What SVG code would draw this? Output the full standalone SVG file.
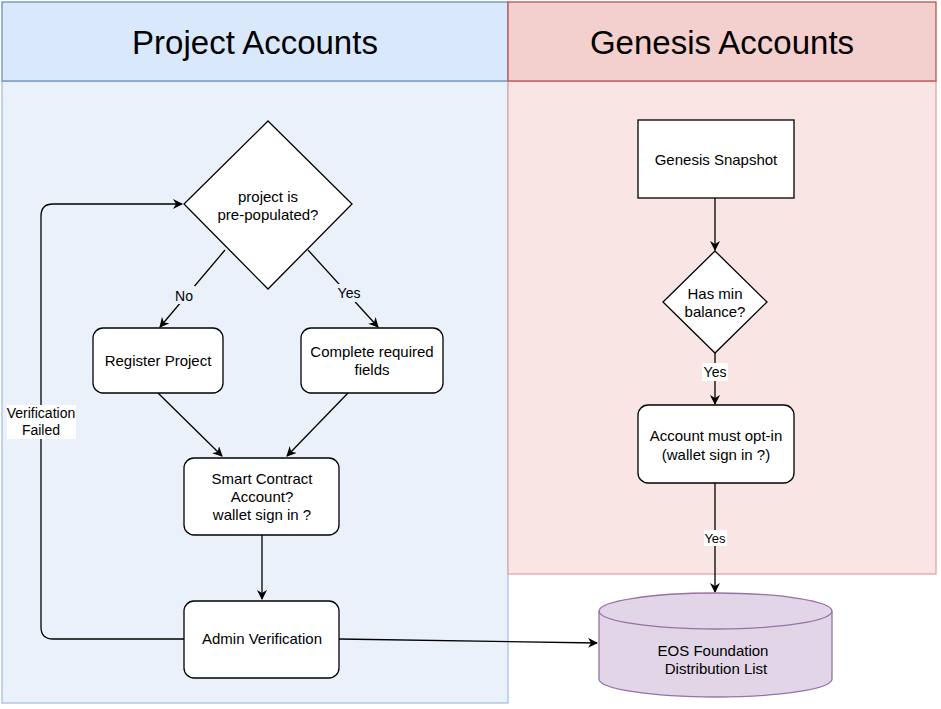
<svg xmlns="http://www.w3.org/2000/svg" width="941" height="709" viewBox="0 0 941 709">
<defs>
<style>
.t{font-family:"Liberation Sans",Arial,sans-serif;font-size:15px;fill:#000;text-anchor:middle}
.title{font-family:"Liberation Sans",Arial,sans-serif;font-size:33px;fill:#000;text-anchor:middle}
.lbl{font-family:"Liberation Sans",Arial,sans-serif;font-size:14px;fill:#000;text-anchor:middle}
.node{fill:#fff;stroke:#000;stroke-width:1.3}
.edge{fill:none;stroke:#000;stroke-width:1.3}
</style>
<marker id="arr" viewBox="0 0 10 10" refX="9" refY="5" markerWidth="10" markerHeight="10" markerUnits="userSpaceOnUse" orient="auto">
<path d="M0,0 L10,5 L0,10 L3,5 Z" fill="#000"/>
</marker>
</defs>
<rect width="941" height="709" fill="#fff"/>
<g id="pool-project">
<rect x="2" y="81" width="506" height="622" fill="#eaf1fb" stroke="#a9bfe0" stroke-width="1.3"/>
<rect x="2" y="2" width="506" height="79" fill="#dae8fc" stroke="#6c8ebf" stroke-width="1.3"/>
<text class="title" x="255" y="54">Project Accounts</text>
</g>
<g id="pool-genesis">
<rect x="508" y="81" width="428" height="493" fill="#f8e5e4" stroke="#e0a5a3" stroke-width="1.3"/>
<rect x="508" y="2" width="428" height="79" fill="#f3cfcd" stroke="#b85450" stroke-width="1.3"/>
<text class="title" x="722" y="54">Genesis Accounts</text>
</g>
<g id="connectors">
<line class="edge" x1="225" y1="250" x2="160" y2="327" marker-end="url(#arr)"/>
<line class="edge" x1="308" y1="250" x2="378" y2="327" marker-end="url(#arr)"/>
<line class="edge" x1="158" y1="393" x2="222" y2="456" marker-end="url(#arr)"/>
<line class="edge" x1="348" y1="393" x2="287" y2="456" marker-end="url(#arr)"/>
<line class="edge" x1="262" y1="535" x2="262" y2="599" marker-end="url(#arr)"/>
<path class="edge" d="M184,639 L53,639 Q41,639 41,627 L41,216 Q41,204 53,204 L182,204" marker-end="url(#arr)"/>
<line class="edge" x1="339" y1="639" x2="597" y2="643" marker-end="url(#arr)"/>
<line class="edge" x1="715" y1="198" x2="715" y2="250" marker-end="url(#arr)"/>
<line class="edge" x1="715" y1="353" x2="715" y2="404" marker-end="url(#arr)"/>
<line class="edge" x1="715" y1="483" x2="715" y2="592" marker-end="url(#arr)"/>
<rect x="173" y="286" width="22" height="18" fill="#eaf1fb"/>
<text class="lbl" x="184" y="301">No</text>
<rect x="336" y="284" width="26" height="18" fill="#eaf1fb"/>
<text class="lbl" x="349" y="298">Yes</text>
<rect x="7" y="405" width="69" height="34" fill="#fff"/>
<text class="lbl" x="41" y="418">Verification</text>
<text class="lbl" x="41" y="435">Failed</text>
<rect x="702" y="363" width="26" height="18" fill="#fff"/>
<text class="lbl" x="715" y="377">Yes</text>
<rect x="704" y="530" width="23" height="16" fill="#fff"/>
<text class="lbl" x="715" y="543" style="font-size:13px">Yes</text>
</g>
<g id="n-prepopulated">
<polygon class="node" points="268,121 352,204 268,289 184,204"/>
<text class="t" x="268" y="202">project is</text>
<text class="t" x="268" y="220">pre-populated?</text>
</g>
<g id="n-register">
<rect class="node" x="93" y="328" width="130" height="65" rx="10"/>
<text class="t" x="158" y="366">Register Project</text>
</g>
<g id="n-complete">
<rect class="node" x="301" y="328" width="142" height="65" rx="10"/>
<text class="t" x="372" y="357">Complete required</text>
<text class="t" x="372" y="375">fields</text>
</g>
<g id="n-smart">
<rect class="node" x="184" y="458" width="155" height="77" rx="10"/>
<text class="t" x="262" y="484">Smart Contract</text>
<text class="t" x="262" y="502">Account?</text>
<text class="t" x="262" y="520">wallet sign in ?</text>
</g>
<g id="n-admin">
<rect class="node" x="184" y="601" width="155" height="77" rx="10"/>
<text class="t" x="262" y="644">Admin Verification</text>
</g>
<g id="n-snapshot">
<rect class="node" x="638" y="120" width="156" height="78"/>
<text class="t" x="716" y="165">Genesis Snapshot</text>
</g>
<g id="n-minbalance">
<polygon class="node" points="715,251 767,302 715,353 663,302"/>
<text class="t" x="715" y="299">Has min</text>
<text class="t" x="715" y="317">balance?</text>
</g>
<g id="n-optin">
<rect class="node" x="638" y="405" width="156" height="78" rx="10"/>
<text class="t" x="716" y="441">Account must opt-in</text>
<text class="t" x="716" y="460">(wallet sign in ?)</text>
</g>
<g id="n-eos">
<path d="M599,611 A116.5,18 0 0 1 832,611 L832,679 A116.5,18 0 0 1 599,679 Z" fill="#e1d5e7" stroke="#9673a6" stroke-width="1.3"/>
<path d="M599,611 A116.5,18 0 0 0 832,611" fill="none" stroke="#9673a6" stroke-width="1.3"/>
<text class="t" x="713" y="656">EOS Foundation</text>
<text class="t" x="716" y="674">Distribution List</text>
</g>
</svg>
